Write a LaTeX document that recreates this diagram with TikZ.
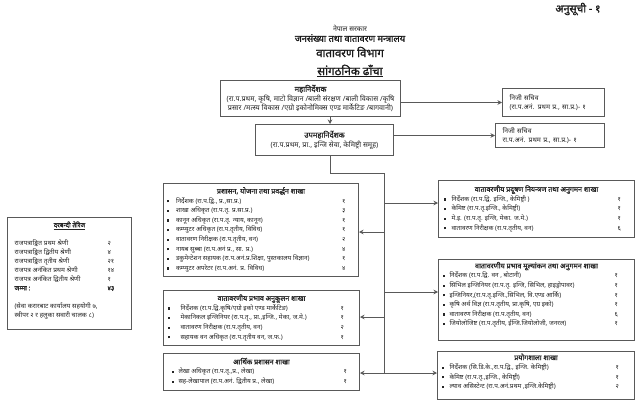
\documentclass[tikz,border=0pt]{standalone}
\usepackage{fontspec}
\usepackage{array}
\setmainfont[Script=Devanagari, BoldFont={Noto Sans}, BoldFeatures={FakeBold=1.5}]{Noto Sans}
\usetikzlibrary{positioning}
\usetikzlibrary{arrows.meta}

\newcommand{\bu}{\rule[0.8pt]{2.2pt}{2.2pt}}
\newcommand{\branchtitle}[1]{\multicolumn{3}{c}{\bfseries\fontsize{7.1}{9.6}\selectfont #1}\\}
\newcommand{\staffrow}[2]{\bu & #1 & #2\\}
\newcommand{\pad}[1]{\noalign{\vskip #1}}
\newcommand{\smalltext}{\fontsize{6.4}{9.6}\selectfont}

\tikzset{
    branchbox/.style={draw=black!65, line width=1pt, inner sep=0pt, anchor=north west, text=black!85, font=\smalltext},
    privatebox/.style={branchbox, align=left, inner sep=0pt, inner xsep=7pt},
    heading/.style={text=black!90, inner sep=0pt},
    link/.style={draw=black!65, line width=1pt},
    linkarrow/.style={link, -{Stealth[length=4.5pt, width=4.5pt]}}
}

\begin{document}
\begin{tikzpicture}[x=1pt, y=-1pt, >=stealth]
    \useasboundingbox (0,0) rectangle (640,407);

    % headings
    \node[heading, font=\bfseries\fontsize{10.6}{12}\selectfont] (schedule) at (578,9) {अनुसूची - १};
    \node[heading, font=\fontsize{7}{8}\selectfont] (government) at (350,28) {नेपाल सरकार};
    \node[heading, font=\bfseries\fontsize{9.2}{10}\selectfont] (ministry) at (350,38) {जनसंख्या तथा वातावरण मन्त्रालय};
    \node[heading, font=\bfseries\fontsize{11.4}{12}\selectfont] (department) at (350,52) {वातावरण विभाग};
    \node[heading, font=\bfseries\fontsize{11.6}{13}\selectfont] (structure) at (350,71) {\underline{सांगठनिक ढाँचा}};

    % top of the office
    \node[branchbox, minimum width=180pt, minimum height=36pt, align=center, font=\fontsize{7.2}{9.6}\selectfont] (director) at (220,80)
        {{\bfseries\fontsize{7.6}{9.6}\selectfont महानिर्देशक}\\
        (रा.प.प्रथम, कृषि, माटो विज्ञान /बाली संरक्षण /बाली विकास /कृषि\\
        प्रसार /मत्स्य विकास /एग्रो इकोनोमिक्स एण्ड मार्केटिङ /बागवानी)};
    \node[branchbox, minimum width=138pt, minimum height=31pt, align=center, font=\fontsize{7.2}{9.6}\selectfont] (deputy) at (255,124)
        {{\bfseries\fontsize{7.6}{9.6}\selectfont उपमहानिर्देशक}\\
        (रा.प.प्रथम, प्रा., इन्जि सेवा, केमिष्ट्री समूह)};
    \node[privatebox, text width=88pt, minimum height=28pt, font=\fontsize{6.8}{9.6}\selectfont] (secretaryone) at (502,88)
        {निजी सचिव\\(रा.प.अनं. प्रथम प्र., सा.प्र.)- १};
    \node[privatebox, text width=95pt, minimum height=24pt, font=\fontsize{6.8}{9.6}\selectfont] (secretarytwo) at (495,123)
        {निजी सचिव\\रा.प.अनं. प्रथम प्र., सा.प्र.)-  १};

    % left branches
    \node[branchbox, minimum width=195pt, minimum height=93pt] (admin) at (163,183)
        {\begin{tabular}{@{}p{9pt}@{}p{166pt}@{}p{13pt}@{}}
        \branchtitle{प्रशासन, योजना तथा प्रवर्द्धन शाखा}
        \staffrow{निर्देशक (रा.प.द्वि., प्र.,सा.प्र.)}{१}
        \staffrow{शाखा अधिकृत (रा.प.तृ. प्र.सा.प्र.)}{३}
        \staffrow{कानून अधिकृत (रा.प.तृ. न्याय, कानून)}{१}
        \staffrow{कम्प्युटर अधिकृत (रा.प.तृतीय, विविध)}{१}
        \staffrow{वातावरण निरीक्षक (रा.प.तृतीय, वन)}{२}
        \staffrow{नायब सुब्बा (रा.प.अनं प्र., सा. प्र.)}{४}
        \staffrow{डकुमेन्टेशन सहायक (रा.प.अनं.प्र.शिक्षा, पुस्तकालय विज्ञान)}{१}
        \staffrow{कम्प्युटर अपरेटर (रा.प.अनं. प्र. विविध)}{४}
        \end{tabular}};
    \node[branchbox, minimum width=196pt, minimum height=55pt] (adapt) at (163,290)
        {\begin{tabular}{@{}p{13pt}@{}p{160pt}@{}p{15pt}@{}}
        \branchtitle{वातावरणीय प्रभाव अनुकूलन शाखा}
        \staffrow{निर्देशक (रा.प.द्वि.कृषि/एग्रो इको एण्ड मार्केटिङ)}{१}
        \staffrow{मेकानिकल इन्जिनियर (रा.प.तृ., प्रा.,इन्जि., मेका, ज.मे.)}{१}
        \staffrow{वातावरण निरीक्षक (रा.प.तृतीय, वन)}{२}
        \staffrow{सहायक वन अधिकृत (रा.प.तृतीय वन, ज.फ.)}{१}
        \end{tabular}};
    \node[branchbox, minimum width=196pt, minimum height=37pt] (finance) at (163,353)
        {\begin{tabular}{@{}p{7pt}@{}p{165pt}@{}p{8pt}@{}}
        \branchtitle{आर्थिक प्रशासन शाखा}
        \staffrow{लेखा अधिकृत (रा.प.तृ.,प्र., लेखा)}{१}
        \staffrow{सह-लेखापाल (रा.प.अनं. द्वितीय प्र., लेखा)}{१}
        \end{tabular}};

    % right branches
    \node[branchbox, minimum width=196pt, minimum height=57pt] (pollution) at (438,180)
        {\begin{tabular}{@{}p{8pt}@{}p{166pt}@{}p{12pt}@{}}
        \branchtitle{वातावरणीय प्रदूषण नियन्त्रण तथा अनुगमन शाखा}
        \staffrow{निर्देशक (रा.प.द्वि. इन्जि., केमिष्ट्री )}{१}
        \staffrow{केमिष्ट (रा.प.तृ.इन्जि., केमिष्ट्री)}{१}
        \staffrow{मे.इ. (रा.प.तृ. इन्जि, मेका. ज.मे.)}{१}
        \staffrow{वातावरण निरीक्षक (रा.प.तृतीय, वन)}{६}
        \end{tabular}};
    \node[branchbox, minimum width=196pt, minimum height=81pt] (assessment) at (438,259)
        {\begin{tabular}{@{}p{7pt}@{}p{165pt}@{}p{16pt}@{}}
        \branchtitle{वातावरणीय प्रभाव मूल्यांकन तथा अनुगमन शाखा}
        \staffrow{निर्देशक (रा.प.द्वि. वन , बोटानी)}{१}
        \staffrow{सिभिल इन्जिनियर (रा.प.तृ. इन्जि, सिभिल, हाइड्रोपावर)}{१}
        \staffrow{इन्जिनियर,(रा.प.तृ.इन्जि.,सिभिल, वि.एण्ड आर्कि)}{१}
        \staffrow{कृषि अर्थ विज्ञ (रा.प.तृतीय, प्रा.कृषि, एग्र इको)}{१}
        \staffrow{वातावरण निरीक्षक (रा.प.तृतीय, वन)}{६}
        \staffrow{जियोलोजिष्ट (रा.प.तृतीय, ईन्जि.जियोलोजी, जनरल)}{१}
        \pad{9.6pt}
        \end{tabular}};
    \node[branchbox, minimum width=197pt, minimum height=48pt] (lab) at (437,351)
        {\begin{tabular}{@{}p{8pt}@{}p{166pt}@{}p{15pt}@{}}
        \branchtitle{प्रयोगशाला शाखा}
        \staffrow{निर्देशक (सि.डि.के.,रा.प.द्वि., इन्जि. केमिष्ट्री)}{१}
        \staffrow{केमिष्ट (रा.प.तृ.,इन्जि., केमिष्ट्री)}{१}
        \staffrow{ल्याव असिस्टेन्ट (रा.प.अनं.प्रथम ,इन्जि.केमिष्ट्री)}{२}
        \pad{6pt}
        \end{tabular}};

    % staff summary
    \node[branchbox, minimum width=124pt, minimum height=112pt, font=\fontsize{6.5}{9}\selectfont] (summary) at (7,217)
        {\begin{tabular}{@{}p{93pt}@{}p{17pt}@{}}
        \multicolumn{2}{c}{\bfseries\underline{दरबन्दी तेरिज}}\\
        \pad{9pt}
        राजपत्राङ्कित प्रथम श्रेणी & २\\
        राजपत्राङ्कित द्वितीय श्रेणी & ४\\
        राजपत्राङ्कित तृतीय श्रेणी & २१\\
        राजपत्र अनंकित प्रथम श्रेणी & १४\\
        राजपत्र अनंकित द्वितीय श्रेणी & १\\
        \bfseries जम्मा : & \bfseries ४३\\
        \pad{9pt}
        \multicolumn{2}{@{}l@{}}{(सेवा करारबाट कार्यालय सहयोगी ७,}\\
        \multicolumn{2}{@{}l@{}}{स्वीपर २ र हलुका सवारी चालक ८)}\\
        \pad{6pt}
        \end{tabular}};

    % connectors
    \coordinate (spinetop) at (330,173);
    \coordinate (spinebend) at (384,173);
    \coordinate (spineend) at (384,373);
    \coordinate (joinpollution) at (384,203);
    \coordinate (joinadmin) at (384,232);
    \coordinate (joinassessment) at (384,292);
    \coordinate (joinadapt) at (384,317);

    \draw[linkarrow] (spinetop |- director.south) -- (spinetop |- deputy.north);
    \draw[linkarrow] (secretaryone.west -| director.east) -- (secretaryone.west);
    \draw[linkarrow] (secretarytwo.west -| deputy.east) -- (secretarytwo.west);
    \draw[link] (spinetop |- deputy.south) -- (spinetop) -- (spinebend) -- (spineend);
    \draw[linkarrow] (joinpollution) -- (joinpollution -| pollution.west);
    \draw[linkarrow] (joinadmin) -- (joinadmin -| admin.east);
    \draw[linkarrow] (joinassessment) -- (joinassessment -| assessment.west);
    \draw[linkarrow] (joinadapt) -- (joinadapt -| adapt.east);
    \draw[linkarrow] (spineend) -- (spineend -| lab.west);
    \draw[linkarrow] (spineend) -- (spineend -| finance.east);
\end{tikzpicture}
\end{document}
